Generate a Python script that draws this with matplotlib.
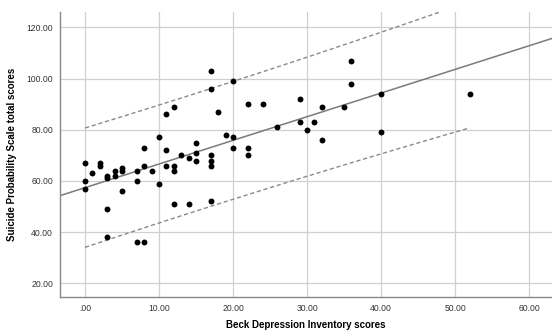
import numpy as np
import matplotlib
matplotlib.use("Agg")
import matplotlib.pyplot as plt
from matplotlib.ticker import FuncFormatter

# Beck Depression Inventory scores (x) vs Suicide Probability Scale total scores (y)
bdi = [0, 0, 0, 1, 2, 2, 3, 3, 3, 3, 4, 4, 5, 5, 5,
       7, 7, 7, 8, 8, 8, 9, 10, 10, 11, 11, 11,
       12, 12, 12, 12, 13, 14, 14, 15, 15, 15,
       17, 17, 17, 17, 17, 17, 18, 19, 20, 20, 20,
       22, 22, 22, 24, 26, 29, 29, 30, 31, 32, 32,
       35, 36, 36, 40, 40, 52]
sps = [67, 60, 57, 63, 67, 66, 62, 61, 49, 38, 64, 62, 65, 64, 56,
       64, 60, 36, 73, 66, 36, 64, 77, 59, 86, 72, 66,
       89, 66, 64, 51, 70, 69, 51, 75, 71, 68,
       103, 96, 70, 68, 66, 52, 87, 78, 99, 77, 73,
       90, 73, 70, 90, 81, 92, 83, 80, 83, 89, 76,
       89, 107, 98, 94, 79, 94]

x = np.array(bdi, dtype=float)
y = np.array(sps, dtype=float)

# linear fit and 95% prediction interval
n = len(x)
slope, intercept = np.polyfit(x, y, 1)
resid = y - (intercept + slope * x)
s = np.sqrt(np.sum(resid ** 2) / (n - 2))
t_crit = 1.999  # t(0.975, df=63)
xm = x.mean()
sxx = np.sum((x - xm) ** 2)

x_fit = np.linspace(-5, 70, 200)
x_pi = np.linspace(x.min(), x.max(), 200)
half = t_crit * s * np.sqrt(1 + 1 / n + (x_pi - xm) ** 2 / sxx)
y_pi = intercept + slope * x_pi

fig = plt.figure(figsize=(5.52, 3.31), dpi=100)
ax = fig.add_axes([0.1087, 0.1036, 0.8913, 0.8601])

ax.grid(True, color="#d0d0d0", linewidth=0.9)
ax.set_axisbelow(True)

ax.plot(x_fit, intercept + slope * x_fit, color="#7a7a7a", linewidth=1.1, zorder=2)
ax.plot(x_pi, y_pi + half, color="#8a8a8a", linewidth=1.0, linestyle=(0, (3, 2)), zorder=2)
ax.plot(x_pi, y_pi - half, color="#8a8a8a", linewidth=1.0, linestyle=(0, (3, 2)), zorder=2)
ax.scatter(x, y, s=18, color="black", zorder=3, linewidths=0)

ax.set_xlim(-3.38, 63.1)
ax.set_ylim(14.8, 126)
ax.set_xticks([0, 10, 20, 30, 40, 50, 60])
ax.set_yticks([20, 40, 60, 80, 100, 120])

fmt = FuncFormatter(lambda v, p: ("%.2f" % v).lstrip("0") if v == 0 else "%.2f" % v)
ax.xaxis.set_major_formatter(fmt)
ax.yaxis.set_major_formatter(fmt)
ax.tick_params(length=0, labelsize=6.2, colors="#333333", pad=5)

for side in ["top", "right"]:
    ax.spines[side].set_visible(False)
for side in ["left", "bottom"]:
    ax.spines[side].set_color("#888888")
    ax.spines[side].set_linewidth(1.0)

font = {"family": "Liberation Sans", "weight": "bold", "size": 7}
for lab in ax.get_xticklabels() + ax.get_yticklabels():
    lab.set_family("Liberation Sans")
ax.set_xlabel("Beck Depression Inventory scores", fontdict=font, labelpad=5)
ax.set_ylabel("Suicide Probability Scale total scores", fontdict=font, labelpad=7)

fig.savefig("out.png", dpi=100)
